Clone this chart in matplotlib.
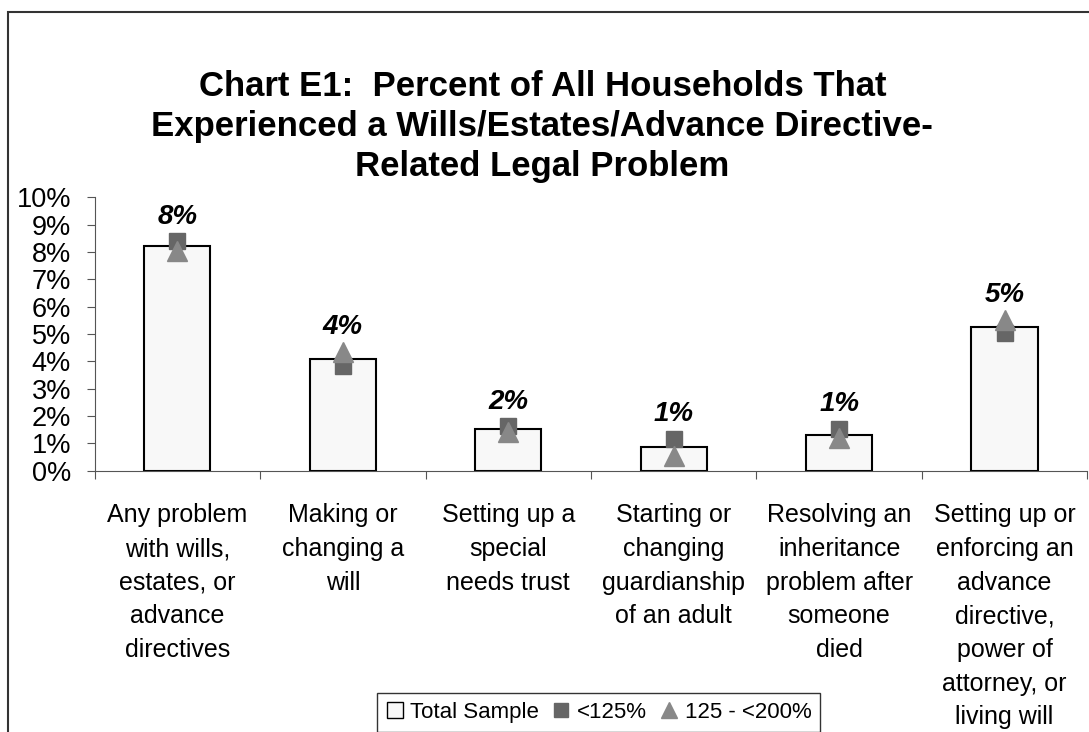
import matplotlib
matplotlib.use("Agg")
import matplotlib.pyplot as plt
from matplotlib.patches import Rectangle
from matplotlib.lines import Line2D
import numpy as np

plt.rcParams['font.family'] = ['Liberation Sans', 'DejaVu Sans']

categories = [
    "Any problem\nwith wills,\nestates, or\nadvance\ndirectives",
    "Making or\nchanging a\nwill",
    "Setting up a\nspecial\nneeds trust",
    "Starting or\nchanging\nguardianship\nof an adult",
    "Resolving an\ninheritance\nproblem after\nsomeone\ndied",
    "Setting up or\nenforcing an\nadvance\ndirective,\npower of\nattorney, or\nliving will",
]
total_sample = [8.23, 4.08, 1.52, 0.86, 1.32, 5.27]
under_125 = [8.39, 3.83, 1.62, 1.15, 1.54, 5.02]
from_125_to_200 = [8.05, 4.35, 1.40, 0.53, 1.18, 5.51]
bar_labels = ["8%", "4%", "2%", "1%", "1%", "5%"]
y_ticks = list(range(0, 11))
y_tick_labels = [f"{v}%" for v in y_ticks]

fig = plt.figure(figsize=(10.89, 7.32), dpi=100)
fig.patches.append(Rectangle((0.0078, -0.05), 1.05, 1.0336, transform=fig.transFigure,
                             fill=False, edgecolor='#333333', linewidth=1.5))

ax = fig.add_axes([0.0869, 0.357, 0.9115, 0.3735])
x = np.arange(len(categories))
ax.bar(x, total_sample, width=0.40, color='#f8f8f8', edgecolor='black', linewidth=1.5,
       zorder=2)
ax.plot(x, under_125, linestyle='none', marker='s', markersize=12, color='#666666',
        zorder=3)
ax.plot(x, from_125_to_200, linestyle='none', marker='^', markersize=14, color='#888888',
        zorder=4)

for xi, lab, a, b, c in zip(x, bar_labels, total_sample, under_125, from_125_to_200):
    top = max(a, b, c)
    ax.text(xi, top + 0.65, lab, ha='center', va='baseline', fontsize=20,
            fontweight='bold', fontstyle='italic')

ax.set_xlim(-0.5, len(categories) - 0.5)
ax.set_ylim(0, 10)
ax.set_yticks(y_ticks)
ax.set_yticklabels(y_tick_labels, fontsize=19.5)
ax.set_xticks(np.arange(-0.5, len(categories), 1.0))
ax.set_xticklabels([])
ax.set_xticks(x, minor=True)
ax.set_xticklabels(categories, minor=True, fontsize=18, linespacing=1.51, va='top')
ax.tick_params(axis='x', which='minor', length=0, pad=23.5)
ax.tick_params(axis='x', which='major', length=6, color='#555555', direction='out')
ax.tick_params(axis='y', length=6, color='#555555', direction='out', pad=11)
ax.spines['top'].set_visible(False)
ax.spines['right'].set_visible(False)
ax.spines['left'].set_color('#555555')
ax.spines['bottom'].set_color('#555555')

fig.text(0.498, 0.8268, "Chart E1:  Percent of All Households That\nExperienced a Wills/Estates/Advance Directive-\nRelated Legal Problem",
         ha='center', va='center', fontsize=25, fontweight='bold', linespacing=1.27)

handles = [
    Line2D([], [], linestyle='none', marker='s', markersize=11, markerfacecolor='#f8f8f8',
           markeredgecolor='black', markeredgewidth=1.0),
    Line2D([], [], linestyle='none', marker='s', markersize=10, color='#666666'),
    Line2D([], [], linestyle='none', marker='^', markersize=12, color='#888888'),
]
leg = fig.legend(handles, ['Total Sample', '<125%', '125 - <200%'],
                 loc='upper left', bbox_to_anchor=(0.346, 0.0533), ncol=3, fontsize=16,
                 frameon=True, fancybox=False, edgecolor='black', handlelength=0.8,
                 handletextpad=0.3, columnspacing=0.6, borderpad=0.4, borderaxespad=0)
leg.get_frame().set_linewidth(1.0)

fig.savefig("out.png", dpi=100)
